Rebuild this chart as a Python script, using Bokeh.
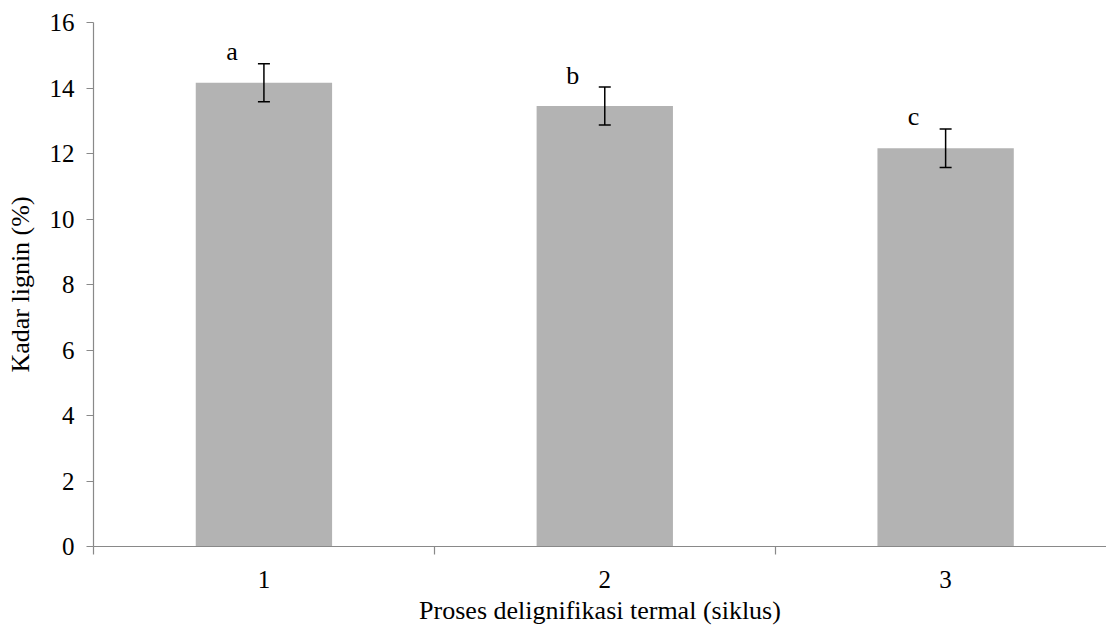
from bokeh.plotting import figure
from bokeh.models import ColumnDataSource, Whisker, TeeHead, FixedTicker, Range1d
from bokeh.core.properties import value
from bokeh.embed import file_html
from bokeh.resources import INLINE

cycles = ["1", "2", "3"]
lignin = [14.16, 13.45, 12.16]
errors = [0.58, 0.58, 0.59]
letters = ["a", "b", "c"]
y_ticks = [0, 2, 4, 6, 8, 10, 12, 14, 16]

FONT = "Liberation Serif"
AXIS_COLOR = "#898989"

xs = [i + 1 for i in range(len(cycles))]
upper = [v + e for v, e in zip(lignin, errors)]
lower = [v - e for v, e in zip(lignin, errors)]

src = ColumnDataSource(dict(x=xs, y=lignin, upper=upper, lower=lower, label=letters))

p = figure(width=1106, height=628, output_backend="svg", toolbar_location=None,
           x_range=Range1d(0.5, 3.472), y_range=Range1d(0, 16),
           min_border_left=93, min_border_right=0, min_border_top=22, min_border_bottom=82)

p.vbar(x="x", top="y", width=0.4, source=src, fill_color="#b3b3b3", line_color=None)

w = Whisker(base="x", upper="upper", lower="lower", source=src,
            line_color="black", line_width=1.5, level="annotation",
            upper_head=TeeHead(size=12, line_color="black", line_width=1.5),
            lower_head=TeeHead(size=12, line_color="black", line_width=1.5))
p.add_layout(w)

p.text(x="x", y="upper", text="label", source=src, x_offset=-32, y_offset=-12,
       text_align="center", text_baseline="alphabetic",
       text_font=value(FONT), text_font_size="26px", text_color="black")

p.grid.visible = False
p.outline_line_color = None
p.background_fill_color = "white"
p.border_fill_color = "white"

xa = p.xaxis[0]
xa.ticker = FixedTicker(ticks=xs, minor_ticks=[x - 0.5 for x in xs] + [xs[-1] + 0.5])
xa.major_label_overrides = {x: c for x, c in zip(xs, cycles)}
xa.major_tick_out = 0
xa.major_tick_in = 0
xa.minor_tick_out = 8
xa.minor_tick_in = 0
xa.major_label_standoff = 16
xa.axis_label = "Proses delignifikasi termal (siklus)"
xa.axis_label_standoff = 5

ya = p.yaxis[0]
ya.ticker = FixedTicker(ticks=y_ticks)
ya.minor_tick_out = 0
ya.minor_tick_in = 0
ya.major_tick_out = 7
ya.major_tick_in = 0
ya.major_label_standoff = 12
ya.axis_label = "Kadar lignin (%)"
ya.axis_label_standoff = 12

for ax in (xa, ya):
    ax.axis_line_color = AXIS_COLOR
    ax.axis_line_width = 1.2
    ax.major_tick_line_color = AXIS_COLOR
    ax.minor_tick_line_color = AXIS_COLOR
    ax.major_tick_line_width = 1.2
    ax.minor_tick_line_width = 1.2
    ax.major_label_text_font = FONT
    ax.major_label_text_font_size = "25px"
    ax.major_label_text_color = "black"
    ax.axis_label_text_font = FONT
    ax.axis_label_text_font_size = "26px"
    ax.axis_label_text_font_style = "normal"
    ax.axis_label_text_color = "black"

open("out.html", "w").write(file_html(p, INLINE))
